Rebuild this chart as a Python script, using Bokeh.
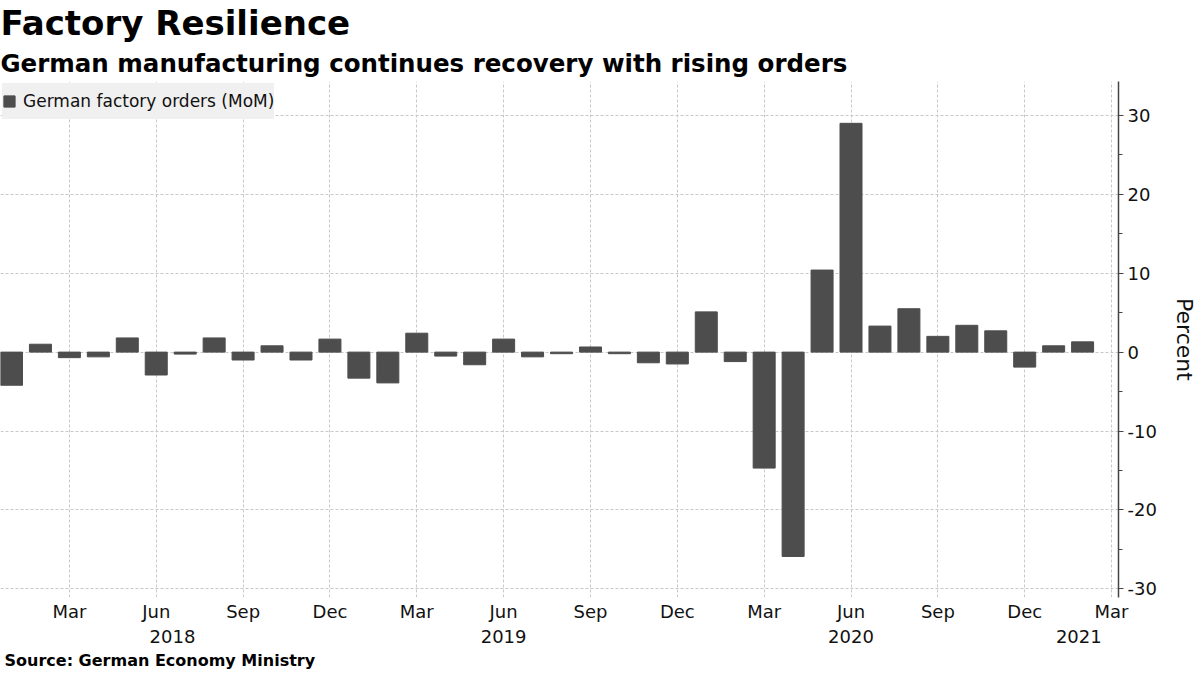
from bokeh.plotting import figure
from bokeh.models import (FixedTicker, LinearAxis, Range1d, Title, CustomJSTickFormatter)
from bokeh.embed import file_html
from bokeh.resources import INLINE

# ---- data ----
month_labels = [
    "Jan 2018", "Feb 2018", "Mar 2018", "Apr 2018", "May 2018", "Jun 2018",
    "Jul 2018", "Aug 2018", "Sep 2018", "Oct 2018", "Nov 2018", "Dec 2018",
    "Jan 2019", "Feb 2019", "Mar 2019", "Apr 2019", "May 2019", "Jun 2019",
    "Jul 2019", "Aug 2019", "Sep 2019", "Oct 2019", "Nov 2019", "Dec 2019",
    "Jan 2020", "Feb 2020", "Mar 2020", "Apr 2020", "May 2020", "Jun 2020",
    "Jul 2020", "Aug 2020", "Sep 2020", "Oct 2020", "Nov 2020", "Dec 2020",
    "Jan 2021", "Feb 2021",
]
orders_mom = [
    -4.2, 1.0, -0.7, -0.6, 1.8, -2.9, -0.25, 1.8, -1.0, 0.8, -1.0, 1.65,
    -3.3, -3.9, 2.4, -0.5, -1.6, 1.65, -0.6, -0.2, 0.65, -0.2, -1.35, -1.5,
    5.1, -1.2, -14.7, -25.9, 10.4, 29.0, 3.3, 5.5, 2.0, 3.4, 2.7, -1.9,
    0.8, 1.3,
]
month_tick_pos = [2, 5, 8, 11, 14, 17, 20, 23, 26, 29, 32, 35, 38]
month_tick_labels = ["Mar", "Jun", "Sep", "Dec", "Mar", "Jun", "Sep", "Dec",
                     "Mar", "Jun", "Sep", "Dec", "Mar"]
year_pos = [5.56, 17.0, 29.0, 36.87]
year_labels = ["2018", "2019", "2020", "2021"]
y_ticks = [-30, -20, -10, 0, 10, 20, 30]
y_tick_labels = ["-30", "-20", "-10", "0", "10", "20", "30"]
y_minor = [-25, -15, -5, 5, 15, 25]

FONT = "DejaVu Sans"
x = list(range(len(orders_mom)))

p = figure(width=1200, height=675, output_backend="svg", toolbar_location=None,
           y_axis_location="right", x_range=Range1d(-0.38, 38.24),
           y_range=Range1d(-31.1, 34.3), min_border_left=0, min_border_right=82,
           min_border_top=0, min_border_bottom=78)
p.outline_line_color = None

p.vbar(x=x, top=orders_mom, bottom=0, width=0.76, color="#4d4d4d",
       legend_label="German factory orders (MoM)")

# x axis: months
xa = p.xaxis[0]
xa.ticker = FixedTicker(ticks=month_tick_pos)
xa.major_label_overrides = {k: v for k, v in zip(month_tick_pos, month_tick_labels)}
xa.axis_line_color = None
xa.major_tick_line_color = None
xa.minor_tick_line_color = None
xa.major_tick_out = 0
xa.major_tick_in = 0
xa.minor_tick_out = 0
xa.minor_tick_in = 0
xa.major_label_standoff = 3
xa.major_label_text_font = FONT
xa.major_label_text_font_size = "18px"
xa.major_label_text_color = "#111111"

ya = p.yaxis[0]
ya.ticker = FixedTicker(ticks=y_ticks, minor_ticks=y_minor)
ya.major_label_overrides = {k: v for k, v in zip(y_ticks, y_tick_labels)}
ya.axis_line_color = "#444444"
ya.axis_line_width = 1.5
ya.major_tick_out = 5
ya.major_tick_in = 0
ya.minor_tick_out = 4
ya.minor_tick_in = 0
ya.major_tick_line_color = "#444444"
ya.minor_tick_line_color = "#444444"
ya.major_label_standoff = 4
ya.major_label_text_font = FONT
ya.major_label_text_font_size = "18px"
ya.major_label_text_color = "#111111"
ya.axis_label = "Percent"
ya.axis_label_text_font = FONT
ya.axis_label_text_font_size = "22px"
ya.axis_label_text_font_style = "normal"
ya.axis_label_text_color = "#111111"
ya.axis_label_standoff = 12

# year axis
year_axis = LinearAxis(
    ticker=FixedTicker(ticks=year_pos),
    formatter=CustomJSTickFormatter(
        args=dict(pos=year_pos, lab=year_labels),
        code="const i = pos.findIndex(v => Math.abs(v - tick) < 1e-6); return i >= 0 ? lab[i] : '';"),
    axis_line_color=None, major_tick_line_color=None, minor_tick_line_color=None,
    major_tick_out=0, major_tick_in=0, minor_tick_out=0, minor_tick_in=0,
    major_label_standoff=5, major_label_text_font=FONT,
    major_label_text_font_size="18px", major_label_text_color="#111111")
p.add_layout(year_axis, "below")

# grids
p.xgrid.ticker = FixedTicker(ticks=month_tick_pos)
p.ygrid.ticker = FixedTicker(ticks=y_ticks)
for g in (p.xgrid, p.ygrid):
    g.grid_line_color = "#c8c8c8"
    g.grid_line_dash = "3 2"
    g.grid_line_width = 1

# legend
lg = p.legend[0]
lg.location = "top_left"
lg.background_fill_color = "#f0f0f0"
lg.background_fill_alpha = 1
lg.border_line_color = None
lg.label_text_font = FONT
lg.label_text_font_size = "17px"
lg.label_text_color = "#111111"
lg.glyph_height = 14
lg.glyph_width = 14
lg.label_height = 36
lg.margin = 2
lg.padding = 10
lg.label_standoff = 7

# titles
p.add_layout(Title(text="German manufacturing continues recovery with rising orders",
                   text_font=FONT, text_font_size="24.5px", text_font_style="bold",
                   text_color="#000000", align="left", standoff=8), "above")
p.add_layout(Title(text="Factory Resilience", text_font=FONT, text_font_size="34px",
                   text_font_style="bold", text_color="#000000", align="left",
                   standoff=0), "above")
p.add_layout(Title(text="Source: German Economy Ministry", text_font=FONT,
                   text_font_size="16px", text_font_style="bold", text_color="#000000",
                   align="left", standoff=6, offset=4), "below")

open("out.html", "w").write(file_html(p, INLINE))
